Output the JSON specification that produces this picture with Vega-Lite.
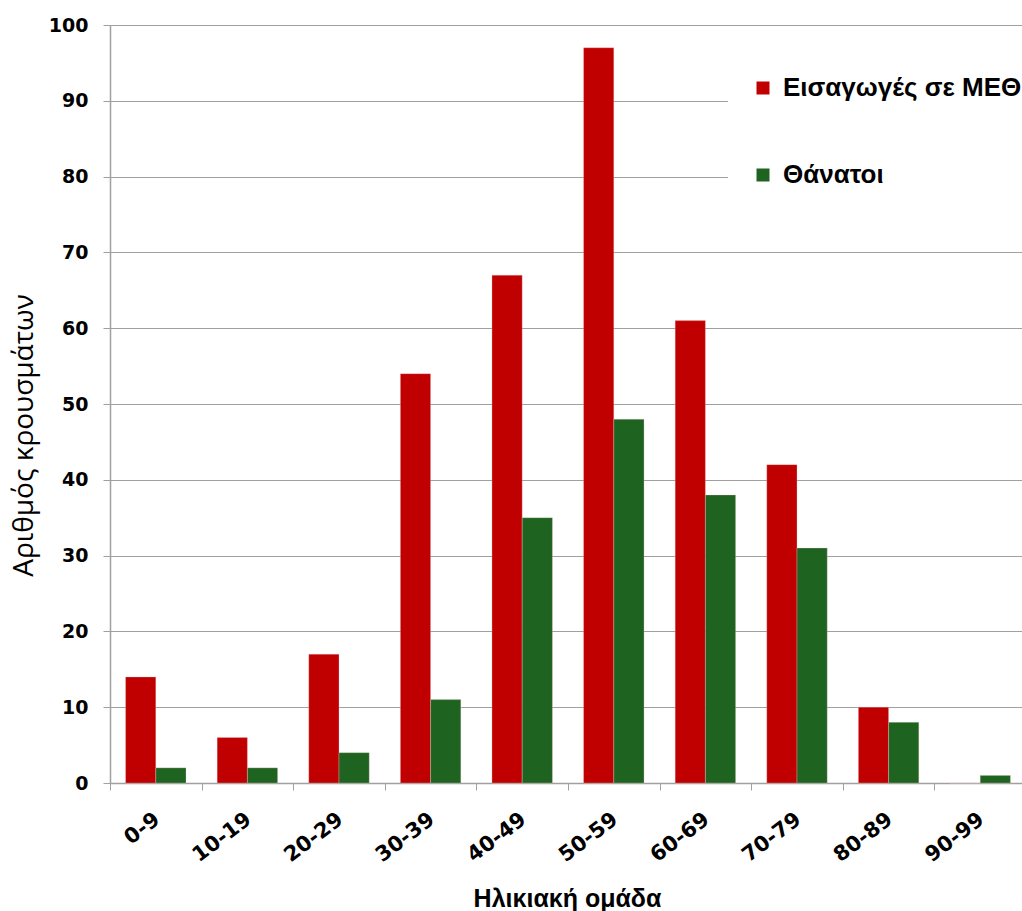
{
  "$schema": "https://vega.github.io/schema/vega-lite/v6.json",
  "autosize": {"type": "none"},
  "padding": {"left": 110, "top": 25, "right": 0, "bottom": 128},
  "width": 916,
  "height": 758,
  "background": "white",
  "data": {
    "values": [
      {"age": "0-9", "series": "Εισαγωγές σε ΜΕΘ", "value": 14},
      {"age": "10-19", "series": "Εισαγωγές σε ΜΕΘ", "value": 6},
      {"age": "20-29", "series": "Εισαγωγές σε ΜΕΘ", "value": 17},
      {"age": "30-39", "series": "Εισαγωγές σε ΜΕΘ", "value": 54},
      {"age": "40-49", "series": "Εισαγωγές σε ΜΕΘ", "value": 67},
      {"age": "50-59", "series": "Εισαγωγές σε ΜΕΘ", "value": 97},
      {"age": "60-69", "series": "Εισαγωγές σε ΜΕΘ", "value": 61},
      {"age": "70-79", "series": "Εισαγωγές σε ΜΕΘ", "value": 42},
      {"age": "80-89", "series": "Εισαγωγές σε ΜΕΘ", "value": 10},
      {"age": "90-99", "series": "Εισαγωγές σε ΜΕΘ", "value": 0},
      {"age": "0-9", "series": "Θάνατοι", "value": 2},
      {"age": "10-19", "series": "Θάνατοι", "value": 2},
      {"age": "20-29", "series": "Θάνατοι", "value": 4},
      {"age": "30-39", "series": "Θάνατοι", "value": 11},
      {"age": "40-49", "series": "Θάνατοι", "value": 35},
      {"age": "50-59", "series": "Θάνατοι", "value": 48},
      {"age": "60-69", "series": "Θάνατοι", "value": 38},
      {"age": "70-79", "series": "Θάνατοι", "value": 31},
      {"age": "80-89", "series": "Θάνατοι", "value": 8},
      {"age": "90-99", "series": "Θάνατοι", "value": 1}
    ]
  },
  "mark": {"type": "bar", "stroke": "#f4d0d0", "strokeWidth": 0.5, "strokeOpacity": 0.6},
  "encoding": {
    "x": {
      "field": "age",
      "type": "nominal",
      "sort": null,
      "scale": {"paddingInner": 0.34, "paddingOuter": 0.17},
      "axis": {
        "title": "Ηλικιακή ομάδα",
        "titleFont": "Liberation Sans",
        "titleFontSize": 25,
        "titleFontWeight": "bold",
        "titleColor": "#000000",
        "titleX": 457,
        "titleY": 115,
        "titleAnchor": "middle",
        "titleAlign": "center",
        "titleBaseline": "middle",
        "ticks": true,
        "tickOffset": -45.8,
        "tickSize": 7,
        "tickColor": "#a0a0a0",
        "domainColor": "#a0a0a0",
        "domainWidth": 1.5,
        "grid": false,
        "labelAngle": -37,
        "labelAlign": "right",
        "labelBaseline": "middle",
        "labelPadding": 27,
        "labelOffset": 47,
        "labelFont": "DejaVu Sans",
        "labelFontSize": 21,
        "labelFontWeight": "bold",
        "labelColor": "#000000"
      }
    },
    "xOffset": {
      "field": "series",
      "type": "nominal",
      "sort": ["Εισαγωγές σε ΜΕΘ", "Θάνατοι"],
      "scale": {"paddingInner": 0, "paddingOuter": 0}
    },
    "y": {
      "field": "value",
      "type": "quantitative",
      "scale": {"domain": [0, 100], "nice": false},
      "axis": {
        "title": "Αριθμός κρουσμάτων",
        "titleFont": "Open Sans",
        "titleFontSize": 28,
        "titleFontWeight": "normal",
        "titleColor": "#000000",
        "titleX": -86,
        "titleY": 410,
        "titleAngle": -90,
        "titleAlign": "center",
        "titleBaseline": "middle",
        "values": [0, 10, 20, 30, 40, 50, 60, 70, 80, 90, 100],
        "tickSize": 7,
        "tickColor": "#a0a0a0",
        "domainColor": "#a0a0a0",
        "domainWidth": 1.5,
        "grid": true,
        "gridColor": "#a0a0a0",
        "gridWidth": 1.2,
        "labelPadding": 15,
        "labelFont": "DejaVu Sans",
        "labelFontSize": 19,
        "labelFontWeight": "bold",
        "labelColor": "#000000"
      }
    },
    "color": {
      "field": "series",
      "type": "nominal",
      "sort": ["Εισαγωγές σε ΜΕΘ", "Θάνατοι"],
      "scale": {"domain": ["Εισαγωγές σε ΜΕΘ", "Θάνατοι"], "range": ["#c00000", "#1f6321"]},
      "legend": {
        "title": null,
        "orient": "none",
        "legendX": 618,
        "legendY": 28,
        "fillColor": "white",
        "padding": 22,
        "symbolType": "square",
        "symbolSize": 169,
        "symbolStrokeWidth": 0,
        "labelFont": "Liberation Sans",
        "labelFontSize": 26,
        "labelFontWeight": "bold",
        "labelColor": "#000000",
        "labelOffset": 7,
        "rowPadding": 61,
        "labelLimit": 400
      }
    }
  },
  "config": {"view": {"stroke": null}}
}
